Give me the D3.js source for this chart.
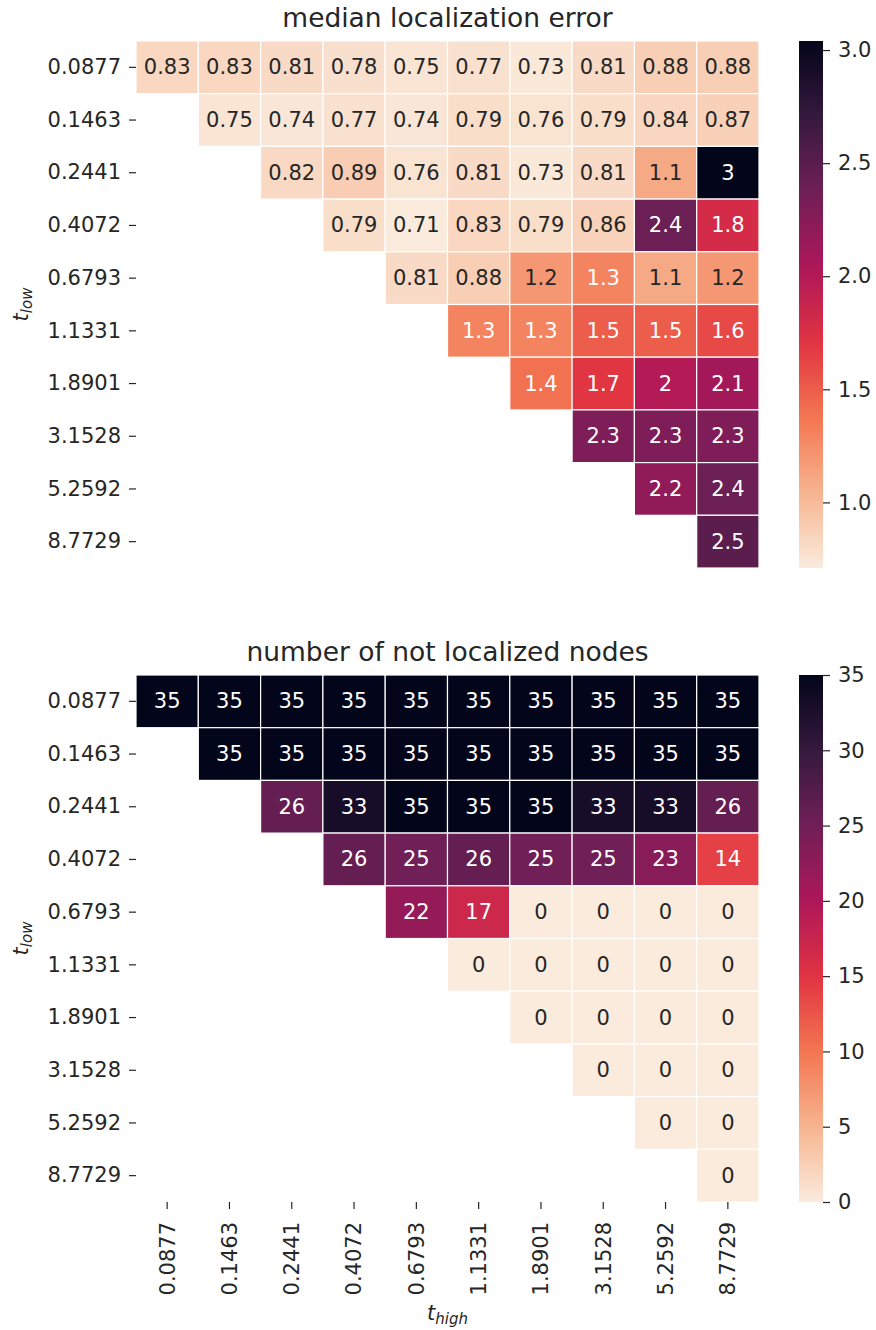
<!DOCTYPE html>
<html><head><meta charset="utf-8">
<script src="https://cdn.jsdelivr.net/npm/d3@7"></script>
<style>
body{margin:0;background:#fff}
svg text{font-family:"DejaVu Sans",sans-serif;fill:#262626}
</style>
</head><body>
<svg id="chart" width="876" height="1330"></svg>
<script>
// ---- data ----
const thresholds = ["0.0877","0.1463","0.2441","0.4072","0.6793","1.1331","1.8901","3.1528","5.2592","8.7729"];
const medianError = [
  [0.83,0.83,0.81,0.78,0.75,0.77,0.73,0.81,0.88,0.88],
  [null,0.75,0.74,0.77,0.74,0.79,0.76,0.79,0.84,0.87],
  [null,null,0.82,0.89,0.76,0.81,0.73,0.81,1.1,3.04],
  [null,null,null,0.79,0.71,0.83,0.79,0.86,2.4,1.8],
  [null,null,null,null,0.81,0.88,1.2,1.3,1.1,1.2],
  [null,null,null,null,null,1.3,1.3,1.5,1.5,1.6],
  [null,null,null,null,null,null,1.4,1.7,2.0,2.1],
  [null,null,null,null,null,null,null,2.3,2.3,2.3],
  [null,null,null,null,null,null,null,null,2.2,2.4],
  [null,null,null,null,null,null,null,null,null,2.5]
];
const notLocalized = [
  [35,35,35,35,35,35,35,35,35,35],
  [null,35,35,35,35,35,35,35,35,35],
  [null,null,26,33,35,35,35,33,33,26],
  [null,null,null,26,25,26,25,25,23,14],
  [null,null,null,null,22,17,0,0,0,0],
  [null,null,null,null,null,0,0,0,0,0],
  [null,null,null,null,null,null,0,0,0,0],
  [null,null,null,null,null,null,null,0,0,0],
  [null,null,null,null,null,null,null,null,0,0],
  [null,null,null,null,null,null,null,null,null,0]
];
const errorTicks = [1.0,1.5,2.0,2.5,3.0];
const countTicks = [0,5,10,15,20,25,30,35];
const titles = ["median localization error","number of not localized nodes"];
const rocketStops = ["#03051a","#35193e","#701f57","#ad1759","#e13342","#f37651","#f6b48f","#faebdd"];

// ---- layout ----
const X0 = 136, X1 = 759;
const panels = [
  {data: medianError, y0: 41, y1: 568, title: titles[0], ticks: errorTicks, tickFmt: d3.format(".1f"), annot: d3.format(".2~g"), xlabels: false},
  {data: notLocalized, y0: 675, y1: 1202, title: titles[1], ticks: countTicks, tickFmt: d3.format("d"), annot: d3.format("d"), xlabels: true}
];
const CB0 = 799, CB1 = 823;
const FS = 21;

const rocket = d3.piecewise(d3.interpolateRgb, rocketStops);
const rocketR = t => rocket(1 - t);

function lum(c) {
  const rgb = d3.rgb(c);
  const f = v => { v /= 255; return v <= 0.03928 ? v / 12.92 : Math.pow((v + 0.055) / 1.055, 2.4); };
  return 0.2126 * f(rgb.r) + 0.7152 * f(rgb.g) + 0.0722 * f(rgb.b);
}

const svg = d3.select("#chart");
const defs = svg.append("defs");

panels.forEach((p, pi) => {
  const g = svg.append("g");
  const x = d3.scaleBand().domain(thresholds).range([X0, X1]);
  const y = d3.scaleBand().domain(thresholds).range([p.y0, p.y1]);
  const flat = p.data.flat().filter(v => v !== null);
  const ext = d3.extent(flat);
  const norm = d3.scaleLinear().domain(ext).range([0, 1]).clamp(true);
  const color = v => rocketR(norm(v));

  const cells = [];
  p.data.forEach((row, i) => row.forEach((v, j) => { if (v !== null) cells.push({i, j, v}); }));

  g.selectAll("rect.cell").data(cells).join("rect")
    .attr("class", "cell")
    .attr("x", d => x(thresholds[d.j]))
    .attr("y", d => y(thresholds[d.i]))
    .attr("width", x.bandwidth())
    .attr("height", y.bandwidth())
    .attr("fill", d => color(d.v))
    .attr("stroke", "#fff")
    .attr("stroke-width", 1.2);

  g.selectAll("text.annot").data(cells).join("text")
    .attr("class", "annot")
    .attr("x", d => x(thresholds[d.j]) + x.bandwidth() / 2)
    .attr("y", d => y(thresholds[d.i]) + y.bandwidth() / 2)
    .attr("text-anchor", "middle")
    .attr("dominant-baseline", "central")
    .style("font-size", FS + "px")
    .style("fill", d => lum(color(d.v)) > 0.408 ? "#262626" : "#ffffff")
    .text(d => p.annot(d.v));

  // y axis
  const ya = g.append("g").attr("transform", `translate(${X0},0)`)
    .call(d3.axisLeft(y).tickSize(7).tickPadding(8));
  ya.select(".domain").remove();
  ya.selectAll("line").attr("stroke", "#262626").attr("stroke-width", 1.2);
  ya.selectAll("text").style("font-size", FS + "px").style("fill", "#262626");

  // y label
  const yl = g.append("text")
    .attr("transform", `translate(28,${(p.y0 + p.y1) / 2}) rotate(-90)`)
    .attr("text-anchor", "middle")
    .style("font-size", FS + "px");
  yl.append("tspan").style("font-style", "italic").text("t");
  yl.append("tspan").style("font-style", "italic").style("font-size", "15px").attr("dy", 4).text("low");

  // title
  g.append("text")
    .attr("x", (X0 + X1) / 2)
    .attr("y", p.y0 - 14)
    .attr("text-anchor", "middle")
    .style("font-size", "26.5px")
    .text(p.title);

  // colorbar
  const cb = d3.scaleLinear().domain(ext).range([p.y1, p.y0]);
  const gid = "grad" + pi;
  const grad = defs.append("linearGradient").attr("id", gid)
    .attr("x1", 0).attr("y1", 1).attr("x2", 0).attr("y2", 0);
  d3.range(0, 1.0001, 0.02).forEach(t => {
    grad.append("stop").attr("offset", t).attr("stop-color", rocketR(t));
  });
  g.append("rect").attr("x", CB0).attr("y", p.y0).attr("width", CB1 - CB0).attr("height", p.y1 - p.y0)
    .attr("fill", `url(#${gid})`);
  const ca = g.append("g").attr("transform", `translate(${CB1},0)`)
    .call(d3.axisRight(cb).tickValues(p.ticks).tickFormat(p.tickFmt).tickSize(7).tickPadding(8));
  ca.select(".domain").remove();
  ca.selectAll("line").attr("stroke", "#262626").attr("stroke-width", 1.2);
  ca.selectAll("text").style("font-size", FS + "px").style("fill", "#262626");

  if (p.xlabels) {
    const xa = g.append("g").attr("transform", `translate(0,${p.y1})`)
      .call(d3.axisBottom(x).tickSize(7).tickPadding(8));
    xa.select(".domain").remove();
    xa.selectAll("line").attr("stroke", "#262626").attr("stroke-width", 1.2);
    xa.selectAll("text")
      .attr("transform", "rotate(-90)")
      .attr("x", -20).attr("y", 0).attr("dy", "0.35em")
      .attr("text-anchor", "end")
      .style("font-size", FS + "px").style("fill", "#262626");
    const xl = g.append("text")
      .attr("x", (X0 + X1) / 2).attr("y", 1320)
      .attr("text-anchor", "middle")
      .style("font-size", FS + "px");
    xl.append("tspan").style("font-style", "italic").text("t");
    xl.append("tspan").style("font-style", "italic").style("font-size", "15px").attr("dy", 4).text("high");
  }
});
</script>
</body></html>
